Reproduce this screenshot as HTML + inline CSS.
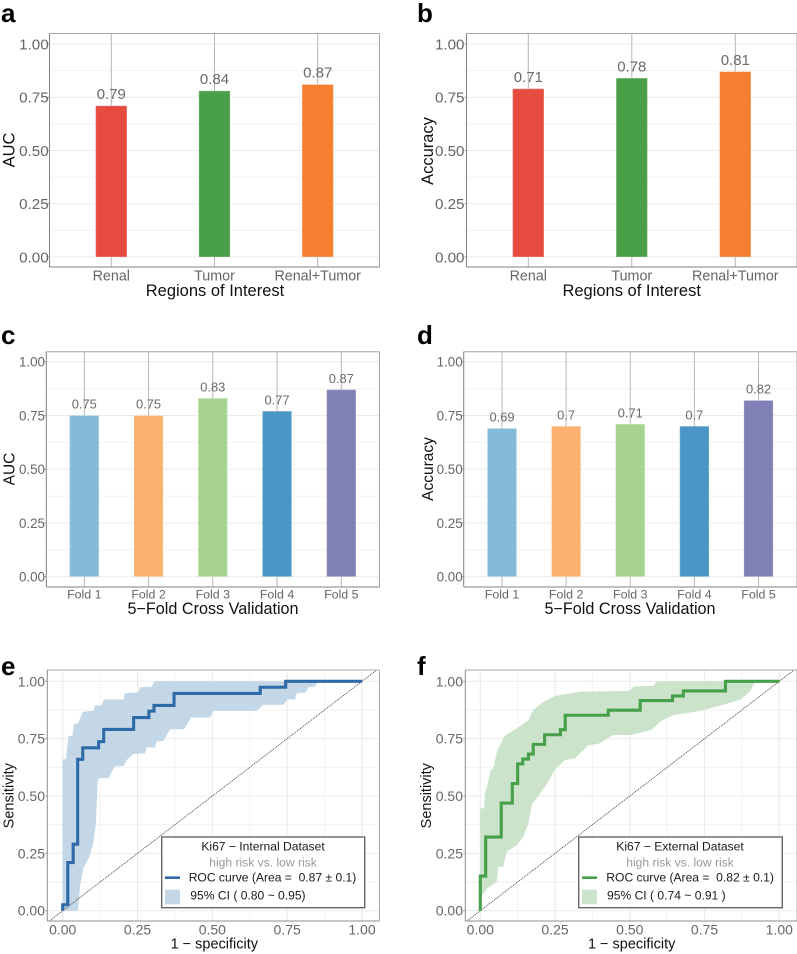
<!DOCTYPE html>
<html>
<head>
<meta charset="utf-8">
<title>Ki67 model performance panels</title>
<style>
html,body{margin:0;padding:0;background:#fff;width:797px;height:954px;overflow:hidden}
svg{display:block;font-family:"Liberation Sans",Arial,sans-serif}
text{white-space:pre}
.letter{font-size:26px;font-weight:700;fill:#000}
.title-a{font-size:16.5px;fill:#111;text-anchor:middle}
.title-c{font-size:16.2px;fill:#111;text-anchor:middle}
.title-e{font-size:14.5px;fill:#111;text-anchor:middle}
.lg{font-size:12.1px;fill:#1a1a1a}
.lg-sub{font-size:12.1px;fill:#999;text-anchor:middle}
</style>
</head>
<body>
<svg id="figure" xmlns="http://www.w3.org/2000/svg" width="797" height="954" viewBox="0 0 797 954">
  <rect x="0" y="0" width="797" height="954" fill="#fff"/>

  <g>
    <g id="plot-a"></g>
    <text class="letter" x="1" y="22">a</text>
    <text class="title-a" transform="translate(14.5 150) rotate(-90)">AUC</text>
    <text class="title-a" x="215" y="296">Regions of Interest</text>
  </g>

  <g>
    <g id="plot-b"></g>
    <text class="letter" x="417" y="22">b</text>
    <text class="title-a" transform="translate(433 151) rotate(-90)">Accuracy</text>
    <text class="title-a" x="631.7" y="296">Regions of Interest</text>
  </g>

  <g>
    <g id="plot-c"></g>
    <text class="letter" x="1" y="344">c</text>
    <text class="title-a" style="font-size:15.5px" transform="translate(14.5 469) rotate(-90)">AUC</text>
    <text class="title-c" x="213" y="614">5−Fold Cross Validation</text>
  </g>

  <g>
    <g id="plot-d"></g>
    <text class="letter" x="417" y="344">d</text>
    <text class="title-a" style="font-size:15.5px" transform="translate(433 469) rotate(-90)">Accuracy</text>
    <text class="title-c" x="630" y="614">5−Fold Cross Validation</text>
  </g>

  <g>
    <g id="plot-e"></g>
    <text class="letter" x="1" y="675">e</text>
    <text class="title-e" transform="translate(13.7 795.7) rotate(-90)">Sensitivity</text>
    <text class="title-e" x="214.3" y="948.7">1 − specificity</text>
    <g>
      <rect x="161.7" y="837" width="203" height="70.7" fill="#fff" stroke="#666" stroke-width="1.4"/>
      <text class="lg" style="text-anchor:middle" x="263" y="850.7">Ki67 − Internal Dataset</text>
      <text class="lg-sub" x="263" y="866.7">high risk vs. low risk</text>
      <line x1="165" x2="180" y1="877.7" y2="877.7" stroke="#2f6aa8" stroke-width="2.6"/>
      <text class="lg" x="188.7" y="881.3">ROC curve (Area =  0.87 ± 0.1)</text>
      <rect x="165" y="889.7" width="15" height="14.6" fill="#c3d7e6"/>
      <text class="lg" x="190.3" y="899.3">95% CI ( 0.80 ~ 0.95)</text>
    </g>
  </g>

  <g>
    <g id="plot-f"></g>
    <text class="letter" x="417" y="675">f</text>
    <text class="title-e" transform="translate(431 795.7) rotate(-90)">Sensitivity</text>
    <text class="title-e" x="631.7" y="948.7">1 − specificity</text>
    <g>
      <rect x="578.7" y="837" width="203.6" height="70.7" fill="#fff" stroke="#666" stroke-width="1.4"/>
      <text class="lg" style="text-anchor:middle" x="680" y="850.7">Ki67 − External Dataset</text>
      <text class="lg-sub" x="680" y="866.7">high risk vs. low risk</text>
      <line x1="582" x2="597" y1="877.7" y2="877.7" stroke="#45a049" stroke-width="2.6"/>
      <text class="lg" x="606.3" y="881.3">ROC curve (Area =  0.82 ± 0.1)</text>
      <rect x="582" y="889.7" width="15" height="14.6" fill="#cbe3cb"/>
      <text class="lg" x="607" y="899.3">95% CI ( 0.74 ~ 0.91 )</text>
    </g>
  </g>
</svg>

<script>
// ---- shared axis data ----
const axisTickValues = [0, 0.25, 0.5, 0.75, 1];
const axisTickLabels = ['0.00', '0.25', '0.50', '0.75', '1.00'];

// ---- panels a / b ----
const roiCategories = ['Renal', 'Tumor', 'Renal+Tumor'];
const aucRoiValues = [0.71, 0.78, 0.81];
const aucRoiPrinted = ['0.79', '0.84', '0.87'];
const accRoiValues = [0.79, 0.84, 0.87];
const accRoiPrinted = ['0.71', '0.78', '0.81'];

// ---- panels c / d ----
const foldCategories = ['Fold 1', 'Fold 2', 'Fold 3', 'Fold 4', 'Fold 5'];
const aucFoldValues = [0.75, 0.75, 0.83, 0.77, 0.87];
const aucFoldPrinted = ['0.75', '0.75', '0.83', '0.77', '0.87'];
const accFoldValues = [0.69, 0.70, 0.71, 0.70, 0.82];
const accFoldPrinted = ['0.69', '0.7', '0.71', '0.7', '0.82'];

// ---- panel e ROC ----
const internalFpr = [0, 0.017, 0.035, 0.05, 0.067, 0.12, 0.137, 0.237, 0.288, 0.305, 0.372, 0.66, 0.745, 1];
const internalTpr = [0.026, 0.21, 0.29, 0.66, 0.71, 0.737, 0.79, 0.842, 0.87, 0.895, 0.947, 0.974, 1, 1];
const internalUpperFpr = [0, 0, 0.011, 0.019, 0.032, 0.038, 0.052, 0.067, 0.102, 0.108, 0.13, 0.138, 0.203, 0.207, 0.253, 0.258, 0.298, 0.305, 0.849];
const internalUpperTpr = [0, 0.66, 0.66, 0.762, 0.762, 0.814, 0.817, 0.868, 0.871, 0.895, 0.895, 0.921, 0.921, 0.948, 0.951, 0.974, 0.977, 1, 1];
const internalLowerFpr = [0.051, 0.058, 0.069, 0.089, 0.102, 0.111, 0.117, 0.121, 0.153, 0.173, 0.203, 0.214, 0.236, 0.275, 0.281, 0.308, 0.314, 0.336, 0.359, 0.406, 0.428, 0.492, 0.503, 0.648, 0.67, 0.737, 0.751, 0.776, 0.782, 0.813, 0.821, 0.843, 0.854];
const internalLowerTpr = [0, 0.105, 0.185, 0.235, 0.294, 0.381, 0.57, 0.578, 0.578, 0.628, 0.631, 0.657, 0.683, 0.686, 0.712, 0.712, 0.737, 0.74, 0.791, 0.791, 0.842, 0.842, 0.871, 0.871, 0.897, 0.897, 0.921, 0.921, 0.948, 0.951, 0.974, 0.977, 1];

// ---- panel f ROC ----
const externalFpr = [0, 0.018, 0.07, 0.107, 0.125, 0.142, 0.161, 0.177, 0.215, 0.268, 0.284, 0.428, 0.535, 0.643, 0.679, 0.82, 1];
const externalTpr = [0.151, 0.321, 0.469, 0.554, 0.64, 0.661, 0.683, 0.725, 0.767, 0.789, 0.852, 0.874, 0.916, 0.936, 0.958, 1, 1];
const externalUpperFpr = [0, 0, 0.012, 0.016, 0.021, 0.035, 0.043, 0.057, 0.082, 0.122, 0.161, 0.177, 0.211, 0.25, 0.333, 0.5, 0.512, 0.579, 0.59, 0.919];
const externalUpperTpr = [0, 0.446, 0.446, 0.519, 0.533, 0.613, 0.62, 0.70, 0.762, 0.795, 0.831, 0.875, 0.911, 0.936, 0.955, 0.958, 0.977, 0.98, 1, 1];
const externalLowerFpr = [0.004, 0.023, 0.055, 0.06, 0.077, 0.088, 0.122, 0.144, 0.161, 0.172, 0.2, 0.224, 0.25, 0.283, 0.317, 0.361, 0.395, 0.445, 0.501, 0.573, 0.601, 0.645, 0.74, 0.802, 0.868, 0.902, 0.919];
const externalLowerTpr = [0.064, 0.097, 0.126, 0.192, 0.192, 0.257, 0.286, 0.323, 0.381, 0.461, 0.512, 0.555, 0.616, 0.657, 0.664, 0.722, 0.727, 0.766, 0.766, 0.788, 0.824, 0.852, 0.872, 0.894, 0.919, 0.955, 1];

const NS = 'http://www.w3.org/2000/svg';
function mk(tag, attrs, parent, txt) {
  const el = document.createElementNS(NS, tag);
  for (const k in attrs) el.setAttribute(k, attrs[k]);
  if (txt !== undefined) el.textContent = txt;
  parent.appendChild(el);
  return el;
}
function linear(d0, d1, r0, r1) {
  return function (v) { return r0 + (v - d0) * (r1 - r0) / (d1 - d0); };
}
function drawFrame(g, box, topColor, sideColor) {
  const a = mk('line', {x1: box.L, x2: box.R, y1: box.T, y2: box.T, stroke: topColor, 'stroke-width': 1}, g);
  
  
  const b = mk('line', {x1: box.R, x2: box.R, y1: box.T, y2: box.B, stroke: topColor, 'stroke-width': 1}, g);
  
  
  const c = mk('line', {x1: box.L, x2: box.L, y1: box.T, y2: box.B, stroke: sideColor, 'stroke-width': 1}, g);
  
  
  const d = mk('line', {x1: box.L, x2: box.R, y1: box.B, y2: box.B, stroke: sideColor, 'stroke-width': 1}, g);
  
  
}
function drawHGrid(g, box, y) {
  axisTickValues.forEach(function (v, i) {
    const major = mk('line', {x1: box.L, x2: box.R, y1: y(v), y2: y(v), stroke: '#ebebeb', 'stroke-width': 1}, g);
    
    
    if (i < axisTickValues.length - 1) {
      const mid = (v + axisTickValues[i + 1]) / 2;
      const minor = mk('line', {x1: box.L, x2: box.R, y1: y(mid), y2: y(mid), stroke: '#f2f2f2', 'stroke-width': 1}, g);
      
      
    }
  });
}
function drawYTicks(g, box, y, labelRight, size) {
  axisTickValues.forEach(function (v, i) {
    const tick = mk('line', {x1: box.L - 2, x2: box.L, y1: y(v), y2: y(v), stroke: '#999', 'stroke-width': 1}, g);
    
    
    const t = mk('text', {x: labelRight, y: y(v) + size * 0.36, 'text-anchor': 'end', 'font-size': size, fill: '#666'}, g, axisTickLabels[i]);
    
    
  });
}
function drawBars(id, box, opt, categories, values, printed, colors) {
  const g = document.getElementById(id);
  const y = linear(0, 1, opt.y0, opt.y1);
  const x = linear(0, categories.length - 1, opt.c0, opt.c1);
  drawHGrid(g, box, y);
  categories.forEach(function (c, i) {
    const v = mk('line', {x1: x(i), x2: x(i), y1: box.T, y2: box.B, stroke: '#b6b6b6', 'stroke-width': 1}, g);
    
    
  });
  categories.forEach(function (c, i) {
    const top = y(values[i]);
    const r = mk('rect', {x: x(i) - opt.w / 2, y: top, width: opt.w, height: y(0) - top, fill: colors[i], stroke: '#fff', 'stroke-opacity': 0.3, 'stroke-width': 1}, g);
    
    
    const lab = mk('text', {x: x(i), y: top - 6.8, 'text-anchor': 'middle', 'font-size': opt.valueSize, fill: '#6a6a6a'}, g, printed[i]);
    
    
    const tl = mk('text', {x: x(i), y: opt.catBase, 'text-anchor': 'middle', 'font-size': opt.catSize, fill: '#666'}, g, c);
    
    
  });
  drawFrame(g, box, '#a6a6a6', '#808080');
  drawYTicks(g, box, y, opt.labelRight, opt.tickSize);
}
function drawRoc(id, box, opt, fpr, tpr, upFpr, upTpr, loFpr, loTpr, lineColor, bandColor) {
  const g = document.getElementById(id);
  const y = linear(0, 1, opt.y0, opt.y1);
  const x = linear(0, 1, opt.x0, opt.x1);
  drawHGrid(g, box, y);
  axisTickValues.forEach(function (v, i) {
    const major = mk('line', {x1: x(v), x2: x(v), y1: box.T, y2: box.B, stroke: '#e8e8e8', 'stroke-width': 1}, g);
    
    
    if (i < axisTickValues.length - 1) {
      const mid = (v + axisTickValues[i + 1]) / 2;
      const minor = mk('line', {x1: x(mid), x2: x(mid), y1: box.T, y2: box.B, stroke: '#f2f2f2', 'stroke-width': 1}, g);
      
      
    }
    const t = mk('text', {x: x(v), y: opt.catBase, 'text-anchor': 'middle', 'font-size': opt.tickSize, fill: '#666'}, g, axisTickLabels[i]);
    
    
  });
  let pts = [];
  upFpr.forEach(function (f, i) { pts.push(x(f).toFixed(2) + ',' + y(upTpr[i]).toFixed(2)); });
  for (let i = loFpr.length - 1; i >= 0; i--) pts.push(x(loFpr[i]).toFixed(2) + ',' + y(loTpr[i]).toFixed(2));
  const band = mk('polygon', {points: pts.join(' '), fill: bandColor}, g);
  
  
  const diag = mk('line', {x1: x(-0.045), y1: y(-0.045), x2: x(1.047), y2: y(1.047), stroke: '#444', 'stroke-width': 0.8, 'stroke-dasharray': '1.2 0.8'}, g);
  
  
  let d = 'M' + x(0).toFixed(2) + ' ' + y(0).toFixed(2);
  fpr.forEach(function (f, i) {
    d += ' H' + x(f).toFixed(2) + ' V' + y(tpr[i]).toFixed(2);
  });
  const curve = mk('path', {d: d, fill: 'none', stroke: lineColor, 'stroke-width': 3.1, 'stroke-linejoin': 'miter'}, g);
  
  
  drawFrame(g, box, '#aaaaaa', '#8c8c8c');
  drawYTicks(g, box, y, opt.labelRight, opt.tickSize);
}

const roiColors = ['#e64b40', '#4a9f49', '#f57e30'];
const foldColors = ['#85bbd9', '#fdb271', '#a6d38f', '#4a96c4', '#8080b6'];

drawBars('plot-a', {L: 49.5, R: 379.5, T: 33.5, B: 267},
  {y0: 257, y1: 44, c0: 111.3, c1: 317.7, w: 31.3, valueSize: 15, catSize: 14.3, catBase: 280.5, labelRight: 48.7, tickSize: 15.2},
  roiCategories, aucRoiValues, aucRoiPrinted, roiColors);
drawBars('plot-b', {L: 466.5, R: 797, T: 33.5, B: 267},
  {y0: 257, y1: 44, c0: 528.3, c1: 735.3, w: 31.3, valueSize: 15, catSize: 14.3, catBase: 280.5, labelRight: 464.5, tickSize: 15.2},
  roiCategories, accRoiValues, accRoiPrinted, roiColors);
drawBars('plot-c', {L: 46.3, R: 379.5, T: 351.7, B: 587},
  {y0: 576.7, y1: 361.7, c0: 84.3, c1: 341.3, w: 29.3, valueSize: 12.9, catSize: 12.4, catBase: 598.5, labelRight: 45, tickSize: 13.4},
  foldCategories, aucFoldValues, aucFoldPrinted, foldColors);
drawBars('plot-d', {L: 463.7, R: 797, T: 351.7, B: 587},
  {y0: 576.7, y1: 361.7, c0: 502, c1: 758.5, w: 29.3, valueSize: 12.9, catSize: 12.4, catBase: 598.5, labelRight: 462.7, tickSize: 13.4},
  foldCategories, accFoldValues, accFoldPrinted, foldColors);
drawRoc('plot-e', {L: 47.3, R: 379.5, T: 670, B: 921},
  {x0: 62.7, x1: 362, y0: 910.7, y1: 681.3, catBase: 934.3, labelRight: 45, tickSize: 14},
  internalFpr, internalTpr, internalUpperFpr, internalUpperTpr, internalLowerFpr, internalLowerTpr, '#2f6aa8', '#c3d7e6');
drawRoc('plot-f', {L: 465.3, R: 797, T: 670, B: 921},
  {x0: 480.3, x1: 779.3, y0: 910.7, y1: 681.3, catBase: 934.3, labelRight: 463, tickSize: 14},
  externalFpr, externalTpr, externalUpperFpr, externalUpperTpr, externalLowerFpr, externalLowerTpr, '#45a049', '#cbe3cb');
</script>
</body>
</html>
